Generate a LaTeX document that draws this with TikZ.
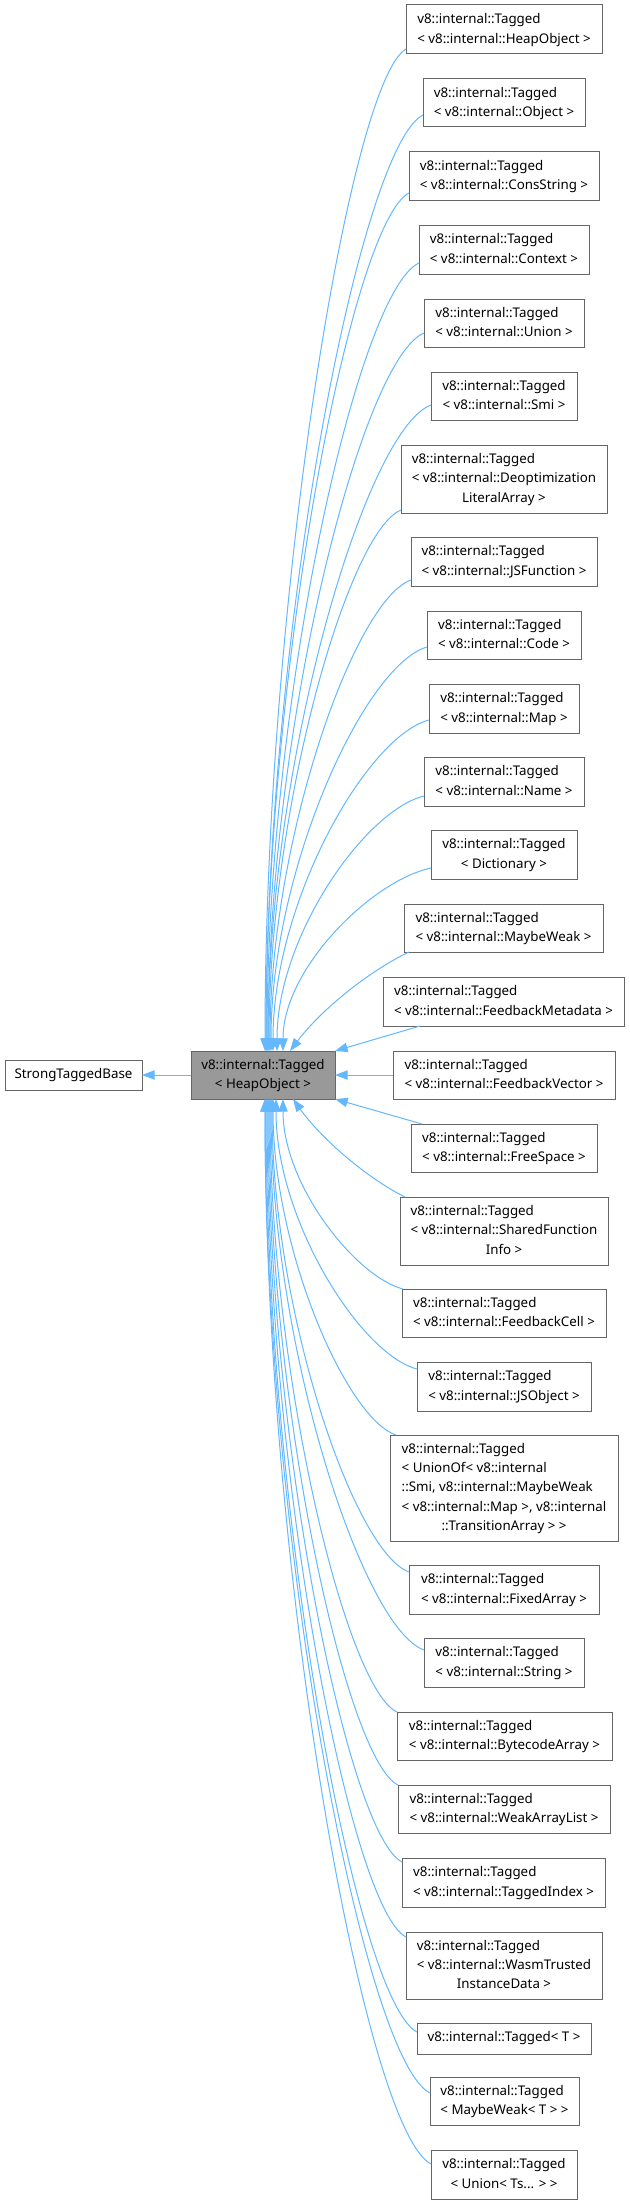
\documentclass[tikz,border=0pt]{standalone}
\usepackage{fontspec}
\setmainfont{Noto Sans}
\usetikzlibrary{arrows.meta,calc}
\definecolor{edgeblue}{HTML}{63B8FF}
\definecolor{bordergray}{HTML}{666666}
\definecolor{fillgray}{HTML}{999999}
\newcommand{\Ltwo}[2]{\begin{tabular}{@{}l@{}}#1\\\multicolumn{1}{@{}c@{}}{#2}\end{tabular}}
\newcommand{\Lthree}[3]{\begin{tabular}{@{}l@{}}#1\\#2\\\multicolumn{1}{@{}c@{}}{#3}\end{tabular}}
\newcommand{\Lfive}[5]{\begin{tabular}{@{}l@{}}#1\\#2\\#3\\#4\\\multicolumn{1}{@{}c@{}}{#5}\end{tabular}}
\newcommand{\bx}[7][]{\node[box,#1,minimum width={(#5-#3)*0.75pt},minimum height={(#6-#4)*0.75pt}] (#2) at ({(#3+#5)/2},{(#4+#6)/2}) {#7};}
\newcommand{\upedge}[2]{\draw[inh] let \p1=(#1), \p2=(#2), \n1={\x1-\x2}, \n2={\y1-\y2} in
  (#2) .. controls (\x2,{\y2+0.45*\n2}) and ({\x1-0.4*\n1},{\y1-0.025*\n2-6pt}) .. (#1);}
\newcommand{\downedge}[2]{\draw[inh] let \p1=(#1), \p2=(#2), \n1={\x1-\x2}, \n2={\y2-\y1} in
  (#2) .. controls (\x2,{\y2-0.45*\n2}) and ({\x1-0.4*\n1},{\y1+0.025*\n2+6pt}) .. (#1);}
\newcommand{\nearup}[2]{\draw[inh] let \p1=(#1), \p2=(#2), \n1={\x1-\x2}, \n2={\y1-\y2} in
  (#2) .. controls ({\x2+0.25*\n1},{\y2+0.4*\n2}) and ({\x1-0.35*\n1},{\y1-0.2*\n2}) .. (#1);}
\newcommand{\neardown}[2]{\draw[inh] let \p1=(#1), \p2=(#2), \n1={\x1-\x2}, \n2={\y2-\y1} in
  (#2) .. controls ({\x2+0.25*\n1},{\y2-0.4*\n2}) and ({\x1-0.35*\n1},{\y1+0.2*\n2}) .. (#1);}
\begin{document}
\begin{tikzpicture}[x=0.75pt,y=-0.75pt,
  box/.style={draw=bordergray,line width=0.75pt,fill=white,inner sep=0pt,outer sep=0pt,
    font=\fontsize{10pt}{14.5pt}\selectfont},
  cbox/.style={fill=fillgray},
  inh/.style={draw=edgeblue,line width=0.75pt,{Triangle[length=9.5pt,width=7pt]}-}]
\useasboundingbox[fill=white] (0,0) rectangle (630,2205);
\bx[cbox]{c}{191}{1051}{335}{1099}{\Ltwo{v8::internal::Tagged}{< HeapObject >}}
\bx{base}{5}{1060}{142}{1090}{StrongTaggedBase}
\bx{n1}{406}{5}{602}{54}{\Ltwo{v8::internal::Tagged}{< v8::internal::HeapObject >}}
\bx{n2}{423}{79}{585}{127}{\Ltwo{v8::internal::Tagged}{< v8::internal::Object >}}
\bx{n3}{409}{152}{599}{200}{\Ltwo{v8::internal::Tagged}{< v8::internal::ConsString >}}
\bx{n4}{419}{225}{589}{274}{\Ltwo{v8::internal::Tagged}{< v8::internal::Context >}}
\bx{n5}{424}{299}{584}{347}{\Ltwo{v8::internal::Tagged}{< v8::internal::Union >}}
\bx{n6}{431}{372}{577}{420}{\Ltwo{v8::internal::Tagged}{< v8::internal::Smi >}}
\bx{n7}{401}{445}{607}{513}{\Lthree{v8::internal::Tagged}{< v8::internal::Deoptimization}{LiteralArray >}}
\bx{n8}{411}{537}{597}{586}{\Ltwo{v8::internal::Tagged}{< v8::internal::JSFunction >}}
\bx{n9}{427}{611}{581}{659}{\Ltwo{v8::internal::Tagged}{< v8::internal::Code >}}
\bx{n10}{429}{684}{579}{733}{\Ltwo{v8::internal::Tagged}{< v8::internal::Map >}}
\bx{n11}{424}{757}{584}{806}{\Ltwo{v8::internal::Tagged}{< v8::internal::Name >}}
\bx{n12}{431}{830}{577}{879}{\Ltwo{v8::internal::Tagged}{< Dictionary >}}
\bx{n13}{404}{904}{603}{952}{\Ltwo{v8::internal::Tagged}{< v8::internal::MaybeWeak >}}
\bx{n14}{383}{977}{624}{1026}{\Ltwo{v8::internal::Tagged}{< v8::internal::FeedbackMetadata >}}
\bx{n15}{393}{1051}{615}{1099}{\Ltwo{v8::internal::Tagged}{< v8::internal::FeedbackVector >}}
\bx{n16}{411}{1124}{597}{1172}{\Ltwo{v8::internal::Tagged}{< v8::internal::FreeSpace >}}
\bx{n17}{400}{1197}{608}{1265}{\Lthree{v8::internal::Tagged}{< v8::internal::SharedFunction}{Info >}}
\bx{n18}{402}{1289}{606}{1337}{\Ltwo{v8::internal::Tagged}{< v8::internal::FeedbackCell >}}
\bx{n19}{417}{1362}{591}{1411}{\Ltwo{v8::internal::Tagged}{< v8::internal::JSObject >}}
\bx{n20}{390}{1435}{618}{1541}{\Lfive{v8::internal::Tagged}{< UnionOf< v8::internal}{::Smi, v8::internal::MaybeWeak}{< v8::internal::Map >, v8::internal}{::TransitionArray > >}}
\bx{n21}{409}{1565}{599}{1614}{\Ltwo{v8::internal::Tagged}{< v8::internal::FixedArray >}}
\bx{n22}{424}{1638}{584}{1687}{\Ltwo{v8::internal::Tagged}{< v8::internal::String >}}
\bx{n23}{397}{1712}{612}{1760}{\Ltwo{v8::internal::Tagged}{< v8::internal::BytecodeArray >}}
\bx{n24}{398}{1785}{610}{1833}{\Ltwo{v8::internal::Tagged}{< v8::internal::WeakArrayList >}}
\bx{n25}{402}{1858}{605}{1907}{\Ltwo{v8::internal::Tagged}{< v8::internal::TaggedIndex >}}
\bx{n26}{406}{1932}{602}{1999}{\Lthree{v8::internal::Tagged}{< v8::internal::WasmTrusted}{InstanceData >}}
\bx{n27}{417}{2023}{591}{2054}{v8::internal::Tagged< T >}
\bx{n28}{430}{2077}{579}{2125}{\Ltwo{v8::internal::Tagged}{< MaybeWeak< T > >}}
\bx{n29}{431}{2150}{577}{2199}{\Ltwo{v8::internal::Tagged}{< Union< Ts... > >}}
% base class
\draw[inh] (base.east) -- (c.west);
% upper children
\foreach \i/\d/\e in {1/5/265,2/12/266,3/7/266,4/11/267,5/14/268,6/15/268,7/3/269,8/6/270,9/12/271,10/13/273,11/10/277,12/11/283}{
  \coordinate (s\i) at ($(n\i.south west)+(0,-\d)$);
  \coordinate (e\i) at ($(c.north west)+(\e-191,0)$);
  \upedge{s\i}{e\i}
}
\coordinate (s13) at ($(n13.south west)+(5,0)$);
\coordinate (e13) at ($(c.north west)+(99,0)$);
\nearup{s13}{e13}
\coordinate (s14) at ($(n14.south west)+(37,0)$);
\draw[inh] (c.north east) -- (s14);
\draw[inh] (c.east) -- (n15.west);
\coordinate (s16) at ($(n16.north west)+(11,0)$);
\draw[inh] (c.south east) -- (s16);
% lower children (left side)
\foreach \i/\d/\e in {19/7/276,21/7/272,22/12/271,25/4/268,26/5/267,27/9/266,28/16/265,29/14/265}{
  \coordinate (s\i) at ($(n\i.north west)+(0,\d)$);
  \coordinate (e\i) at ($(c.south west)+(\e-191,0)$);
  \downedge{s\i}{e\i}
}
% lower children (top side)
\foreach \i/\d/\e in {18/1/283,20/6/273,23/0/270,24/0/269}{
  \coordinate (s\i) at ($(n\i.north west)+(\d,0)$);
  \coordinate (e\i) at ($(c.south west)+(\e-191,0)$);
  \downedge{s\i}{e\i}
}
\coordinate (s17) at ($(n17.north west)+(5,0)$);
\coordinate (e17) at ($(c.south west)+(102,0)$);
\neardown{s17}{e17}
\end{tikzpicture}
\end{document}
